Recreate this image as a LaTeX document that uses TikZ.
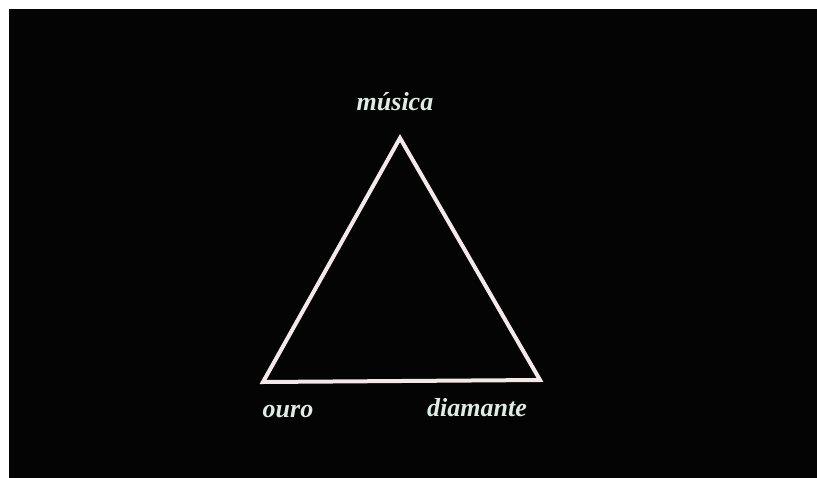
\documentclass[tikz,border=0pt]{standalone}
\usepackage{fontspec}
\setmainfont{Liberation Serif}
\usepackage{tikz}
\usetikzlibrary{positioning}
\definecolor{fundo}{RGB}{4,4,4}
\definecolor{traco}{RGB}{244,232,232}
\definecolor{letra}{RGB}{222,236,228}

\begin{document}
\begin{tikzpicture}[x=0.75pt, y=-0.75pt,
  rotulo/.style={text=letra, font=\fontsize{19.5}{24}\selectfont\bfseries\itshape,
    inner sep=0pt, anchor=base},
  lado/.style={draw=traco, line width=3pt, line join=miter}
]
% Fundo
\useasboundingbox[fill=white] (0,0) rectangle (817,478);
\fill[fundo] (9,9) rectangle (817,478);
% Vertices
\coordinate (topo) at (400,138);
\coordinate (esq) at (263,382);
\coordinate (dir) at (540,380);
% Triangulo
\draw[lado] (topo) -- (esq) -- (dir) -- cycle;
% Rotulos
\node[rotulo] (musica) at (395,110) {música};
\node[rotulo] (ouro) at (288,417) {ouro};
\node[rotulo] (diamante) at (477,416) {diamante};
\end{tikzpicture}
\end{document}
